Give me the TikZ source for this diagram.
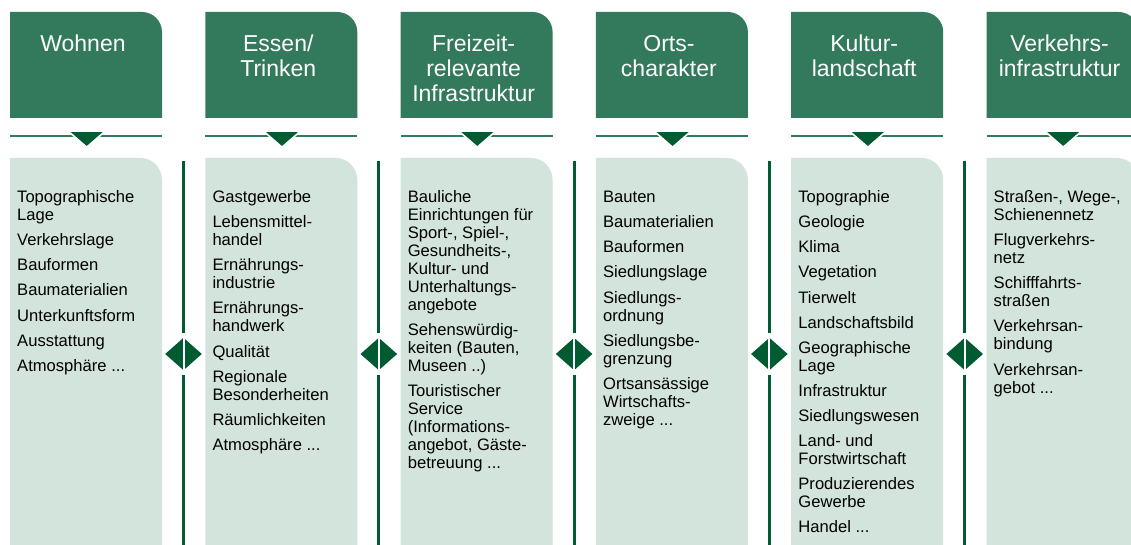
\documentclass[tikz,border=0pt]{standalone}
\usepackage{fontspec}
\setmainfont{Liberation Sans}

\definecolor{hdrgreen}{RGB}{50,122,91}
\definecolor{darkgreen}{RGB}{0,90,50}
\definecolor{palegreen}{RGB}{211,228,220}

% header caption: centred lines, first baseline at the node's base anchor
\newcommand\hdrlines[1]{\parbox[t]{160pt}{\centering\fontsize{23}{25}\selectfont #1}}
% body list: one paragraph per item, explicit line breaks inside items
\newcommand\itemlist[1]{\parbox[t]{175pt}{\raggedright\fontsize{16.6}{18}\selectfont
  \setlength{\parindent}{0pt}\setlength{\parskip}{7.1pt}#1}}

\tikzset{
  hdrtext/.style={anchor=base, inner sep=0pt, text=white},
  bodytext/.style={anchor=base west, inner sep=0pt, text=black},
  divider/.style={draw=hdrgreen, line width=2.2pt},
  marker/.style={fill=darkgreen, draw=white, line width=1.6pt},
  sepline/.style={draw=darkgreen, line width=3pt},
}

\begin{document}
\begin{tikzpicture}[x=1pt, y=-1pt]
\clip (0,0) rectangle (1131,545);
\fill[white] (0,0) rectangle (1131,545);

% six columns: header tab, divider with marker, content panel
\foreach \i in {0,...,5}{
  \pgfmathsetmacro\xa{10+195.3*\i}
  \pgfmathsetmacro\xb{\xa+152}
  % header tab, rounded top-right corner
  \fill[hdrgreen] (\xa,118) -- (\xa,12) -- ({\xb-20},12)
     .. controls ({\xb-9},12) and (\xb,21) .. (\xb,32) -- (\xb,118) -- cycle;
  % divider line with downward marker
  \draw[divider] (\xa,136) -- (\xb,136);
  \path[marker] ({\xa+58.3},131.2) -- ({\xa+95.1},131.2) -- ({\xa+76.7},147.2) -- cycle;
  % content panel, rounded top-right corner
  \fill[palegreen] (\xa,548) -- (\xa,158) -- ({\xb-21},158)
     .. controls ({\xb-9.5},158) and (\xb,168) .. (\xb,180) -- (\xb,548) -- cycle;
}

% separators between columns, each with a split diamond
\foreach \i in {0,...,4}{
  \pgfmathsetmacro\xs{183.5+195.3*\i}
  \draw[sepline] (\xs,160.7) -- (\xs,333);
  \draw[sepline] (\xs,375) -- (\xs,548);
  \fill[darkgreen] ({\xs-18.3},354) -- (\xs,337.8) -- ({\xs+18.3},354) -- (\xs,370.2) -- cycle;
  \draw[white, line width=2pt] (\xs,334) -- (\xs,374);
}

% header captions
\node[hdrtext] (h1) at (83,51.7)    {\hdrlines{Wohnen}};
\node[hdrtext] (h2) at (278.3,51.7) {\hdrlines{Essen/\\Trinken}};
\node[hdrtext] (h3) at (473.6,51.7) {\hdrlines{Freizeit-\\relevante\\Infrastruktur}};
\node[hdrtext] (h4) at (668.9,51.7) {\hdrlines{Orts-\\charakter}};
\node[hdrtext] (h5) at (864.2,51.7) {\hdrlines{Kultur-\\landschaft}};
\node[hdrtext] (h6) at (1059.5,51.7){\hdrlines{Verkehrs-\\infrastruktur}};

% column contents
\node[bodytext] (b1) at (17,202.6) {\itemlist{%
  Topographische\\Lage\par
  Verkehrslage\par
  Bauformen\par
  Baumaterialien\par
  Unterkunftsform\par
  Ausstattung\par
  Atmosphäre ...}};
\node[bodytext] (b2) at (212.3,202.6) {\itemlist{%
  Gastgewerbe\par
  Lebensmittel-\\handel\par
  Ernährungs-\\industrie\par
  Ernährungs-\\handwerk\par
  Qualität\par
  Regionale\\Besonderheiten\par
  Räumlichkeiten\par
  Atmosphäre ...}};
\node[bodytext] (b3) at (407.6,202.6) {\itemlist{%
  Bauliche\\Einrichtungen für\\Sport-, Spiel-,\\Gesundheits-,\\Kultur- und\\Unterhaltungs-\\angebote\par
  Sehenswürdig-\\keiten (Bauten,\\Museen ..)\par
  Touristischer\\Service\\(Informations-\\angebot, Gäste-\\betreuung ...}};
\node[bodytext] (b4) at (602.9,202.6) {\itemlist{%
  Bauten\par
  Baumaterialien\par
  Bauformen\par
  Siedlungslage\par
  Siedlungs-\\ordnung\par
  Siedlungsbe-\\grenzung\par
  Ortsansässige\\Wirtschafts-\\zweige ...}};
\node[bodytext] (b5) at (798.2,202.6) {\itemlist{%
  Topographie\par
  Geologie\par
  Klima\par
  Vegetation\par
  Tierwelt\par
  Landschaftsbild\par
  Geographische\\Lage\par
  Infrastruktur\par
  Siedlungswesen\par
  Land- und\\Forstwirtschaft\par
  Produzierendes\\Gewerbe\par
  Handel ...}};
\node[bodytext] (b6) at (993.5,202.6) {\itemlist{%
  Straßen-, Wege-,\\Schienennetz\par
  Flugverkehrs-\\netz\par
  Schifffahrts-\\straßen\par
  Verkehrsan-\\bindung\par
  Verkehrsan-\\gebot ...}};
\end{tikzpicture}
\end{document}
